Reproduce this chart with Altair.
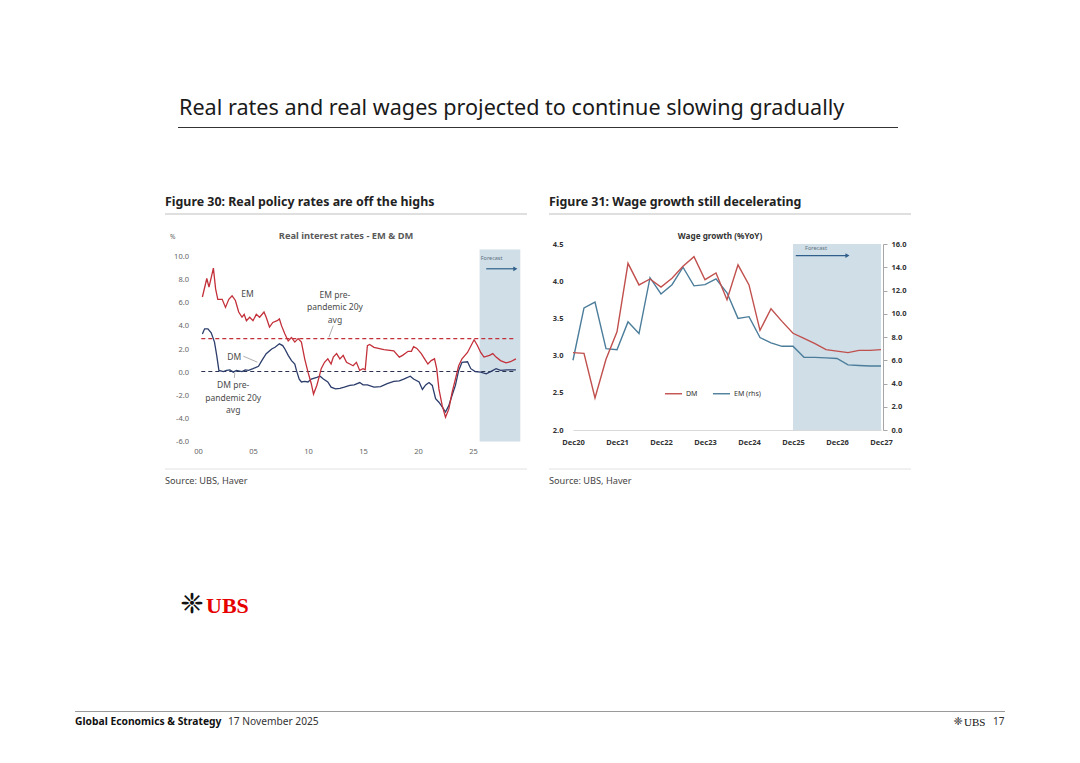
import altair as alt
import pandas as pd

W, H = 1060, 740
FONT = "Noto Sans"
SERIF = "Liberation Serif"


def px(v):
    return v - 8


# ---------------- Figure 30: Real interest rates - EM & DM ----------------
em_year = [2000.4, 2000.8, 2001.0, 2001.4, 2001.6, 2001.8, 2002.2, 2002.5, 2002.8, 2003.1,
           2003.4, 2003.7, 2004.0, 2004.2, 2004.4, 2004.7, 2005.0, 2005.3, 2005.6, 2006.0,
           2006.2, 2006.5, 2006.8, 2007.2, 2007.4, 2007.6, 2007.9, 2008.2, 2008.5, 2008.8,
           2009.1, 2009.4, 2009.7, 2010.0, 2010.3, 2010.5, 2010.8, 2011.0, 2011.2, 2011.5,
           2011.8, 2012.1, 2012.3, 2012.6, 2012.9, 2013.2, 2013.5, 2013.8, 2014.1, 2014.4,
           2014.7, 2015.0, 2015.2, 2015.4, 2015.6, 2016.0, 2016.9, 2017.8, 2018.3, 2018.6,
           2019.1, 2019.4, 2019.6, 2019.9, 2020.3, 2020.6, 2020.9, 2021.2, 2021.5, 2021.7,
           2021.9, 2022.2, 2022.5, 2022.8, 2023.1, 2023.4, 2023.7, 2024.0, 2024.5, 2025.1,
           2025.4, 2025.7, 2026.0, 2026.5, 2026.8, 2027.1, 2027.5, 2028.0, 2028.4, 2028.9]
em_val = [6.5, 8.1, 7.35, 9.0, 7.2, 6.3, 6.3, 5.6, 6.3, 6.6,
          6.2, 5.2, 4.75, 5.0, 4.45, 4.75, 4.45, 5.0, 4.75, 5.2,
          4.75, 3.9, 4.3, 4.45, 4.6, 4.0, 3.3, 2.7, 3.0, 2.6,
          2.9, 2.6, 1.15, 0.0, -1.0, -1.9, -1.15, -0.45, 0.3, 0.85,
          1.15, 0.7, 1.3, 1.6, 1.15, 1.45, 0.85, 0.7, 0.55, 0.85,
          0.15, 0.3, 0.2, 2.3, 2.4, 2.15, 1.95, 1.85, 1.3, 1.45,
          1.8, 1.8, 2.2, 2.05, 1.6, 1.15, 0.7, 1.0, 1.15, 0.3,
          -1.45, -2.9, -3.9, -3.2, -1.75, -0.6, 0.55, 1.15, 1.7, 2.8,
          2.3, 1.7, 1.3, 1.45, 1.6, 1.3, 1.0, 0.8, 0.9, 1.15]

dm_year = [2000.4, 2000.6, 2000.9, 2001.2, 2001.5, 2001.7, 2001.9, 2002.3, 2002.6, 2002.9,
           2003.2, 2003.5, 2004.0, 2004.3, 2004.6, 2005.0, 2005.5, 2005.8, 2006.2, 2006.7,
           2007.0, 2007.4, 2007.7, 2007.9, 2008.2, 2008.5, 2008.8, 2008.95, 2009.2, 2009.4,
           2009.7, 2010.0, 2010.3, 2010.8, 2011.1, 2011.4, 2011.8, 2012.1, 2012.5, 2012.9,
           2013.3, 2013.8, 2014.2, 2014.7, 2015.0, 2015.4, 2016.0, 2016.6, 2017.2, 2017.8,
           2018.3, 2018.7, 2019.3, 2019.6, 2020.1, 2020.4, 2020.7, 2021.0, 2021.3, 2021.6,
           2021.9, 2022.2, 2022.5, 2022.8, 2023.1, 2023.4, 2023.7, 2024.0, 2024.5, 2024.8,
           2025.2, 2025.7, 2026.2, 2026.6, 2027.1, 2027.5, 2028.1, 2028.9]
dm_val = [3.3, 3.75, 3.75, 3.4, 2.6, 1.45, 0.15, 0.05, 0.15, 0.2,
          0.0, 0.15, 0.05, 0.2, 0.15, 0.3, 0.5, 1.0, 1.6, 2.0,
          2.15, 2.45, 2.3, 2.0, 1.45, 1.0, 0.7, 0.15, -0.6, -0.85,
          -0.8, -0.85, -0.6, -0.45, -0.35, -0.6, -0.85, -1.3, -1.45, -1.4,
          -1.3, -1.15, -1.1, -0.9, -1.1, -1.1, -1.3, -1.25, -1.0, -0.8,
          -0.75, -0.6, -0.35, -0.6, -0.85, -1.5, -1.1, -0.9, -1.15, -2.3,
          -2.6, -3.0, -3.45, -2.9, -2.0, -1.15, 0.15, 0.85, 0.9, 0.3,
          0.05, 0.0, -0.15, 0.05, 0.3, 0.15, 0.2, 0.2]

avg_em, avg_dm = 2.9, 0.05
avg_span = [2000.3, 2028.9]
fc_left = [2025.6, 2029.3]
l_y_ticks = [-6, -4, -2, 0, 2, 4, 6, 8, 10]
l_x_ticks = [2000, 2005, 2010, 2015, 2020, 2025]
l_x_labels = ["00", "05", "10", "15", "20", "25"]

ann_labels = ["EM", "EM pre-", "pandemic 20y", "avg", "DM", "DM pre-", "pandemic 20y", "avg"]
ann_year = [2004.5, 2012.45, 2012.45, 2012.45, 2003.3, 2003.2, 2003.2, 2003.2]
ann_val = [6.77, 6.7, 5.6, 4.5, 1.3, -1.1, -2.22, -3.26]
lead_x0 = [2012.3, 2004.12, 2003.35]
lead_y0 = [4.03, 1.38, -0.05]
lead_x1 = [2011.9, 2005.4, 2003.3]
lead_y1 = [3.02, 0.86, -0.5]

# ---------------- Figure 31: Wage growth (%YoY) ----------------
quarters = list(range(29))
dm_wage = [3.04, 3.03, 2.43, 2.95, 3.32, 4.24, 3.95, 4.03, 3.92, 4.04, 4.20, 4.33, 4.02, 4.11, 3.75,
           4.22, 3.95, 3.34, 3.63, 3.46, 3.30, 3.23, 3.16, 3.08, 3.06, 3.04, 3.07, 3.07, 3.08]
em_wage = [6.0, 10.5, 11.0, 7.0, 6.9, 9.3, 8.3, 13.1, 11.7, 12.5, 14.0, 12.4, 12.5, 13.0, 11.8,
           9.6, 9.75, 7.95, 7.5, 7.2, 7.2, 6.25, 6.25, 6.2, 6.15, 5.6, 5.55, 5.5, 5.5]
r_x_ticks = [0, 4, 8, 12, 16, 20, 24, 28]
r_x_labels = ["Dec20", "Dec21", "Dec22", "Dec23", "Dec24", "Dec25", "Dec26", "Dec27"]
r_yl_ticks = [2.0, 2.5, 3.0, 3.5, 4.0, 4.5]
r_yr_ticks = [0, 2, 4, 6, 8, 10, 12, 14, 16]
fc_right = [20, 28]
series_names = ["DM", "EM (rhs)"]

RED_L, NAVY_L = "#c3303a", "#2c3d6c"
RED_R, BLUE_R = "#c0504d", "#4b7d9b"
SHADE = "#cfdee7"
ARROW = "#2f5f8a"


# ---------------- scales ----------------
def sc(domain, rng):
    return alt.Scale(domain=domain, range=rng, nice=False, zero=False)


def LX(field, axis=None):
    return alt.X(field, type="quantitative", scale=sc([1999.5, 2029.5], [px(192.5), px(522.5)]), axis=axis)


def LY(field, axis=None):
    return alt.Y(field, type="quantitative", scale=sc([-6, 10.6], [px(441.5), px(249.6)]), axis=axis)


def RX(field, axis=None):
    return alt.X(field, type="quantitative", scale=sc([0, 28], [px(573), px(881)]), axis=axis)


def RYL(field, axis=None):
    return alt.Y(field, type="quantitative", scale=sc([2.0, 4.5], [px(430), px(244)]), axis=axis)


def RYR(field, axis=None):
    return alt.Y(field, type="quantitative", scale=sc([0, 16], [px(430), px(244)]), axis=axis)


def arr_expr(lst, idx):
    return "[" + ",".join("'%s'" % s for s in lst) + "][" + idx + "]"


layers = []

# ---------- left panel ----------
layers.append(
    alt.Chart(pd.DataFrame({"x0": [fc_left[0]], "x1": [fc_left[1]], "y0": [-6.0], "y1": [10.6]}))
    .mark_rect(color=SHADE)
    .encode(x=LX("x0"), x2="x1", y=LY("y0"), y2="y1")
)
for v, c in [(avg_em, RED_L), (avg_dm, "#2b3350")]:
    layers.append(
        alt.Chart(pd.DataFrame({"x0": [avg_span[0]], "x1": [avg_span[1]], "v": [v]}))
        .mark_rule(color=c, strokeWidth=1.1, strokeDash=[4, 3])
        .encode(x=LX("x0"), x2="x1", y=LY("v"))
    )

lx_axis = alt.Axis(orient="bottom", offset=px(441.5) - H, values=l_x_ticks,
                   labelExpr=arr_expr(l_x_labels, "(datum.value-2000)/5"),
                   ticks=False, domain=False, grid=False, labelFontSize=7.5, labelColor="#666",
                   labelFont=FONT, labelPadding=6, labelFlush=False, labelOverlap=False, title=None)
ly_axis = alt.Axis(orient="left", offset=-px(192.5), values=l_y_ticks,
                   labelExpr="(datum.value < 0 ? '-' : '') + format(abs(datum.value), '.1f')",
                   ticks=False, domain=False, grid=False, labelFontSize=7.5, labelColor="#666",
                   labelFont=FONT, labelPadding=4, labelFlush=False, labelOverlap=False, title=None)

layers.append(
    alt.Chart(pd.DataFrame({"year": dm_year, "v": dm_val}))
    .mark_line(color=NAVY_L, strokeWidth=1.3)
    .encode(x=LX("year"), y=LY("v"))
)
layers.append(
    alt.Chart(pd.DataFrame({"year": em_year, "v": em_val}))
    .mark_line(color=RED_L, strokeWidth=1.3)
    .encode(x=LX("year", lx_axis), y=LY("v", ly_axis))
)
layers.append(
    alt.Chart(pd.DataFrame({"x0": lead_x0, "y0": lead_y0, "x1": lead_x1, "y1": lead_y1}))
    .mark_rule(color="#999999", strokeWidth=0.8)
    .encode(x=LX("x0"), y=LY("y0"), x2="x1", y2="y1")
)
layers.append(
    alt.Chart(pd.DataFrame({"year": ann_year, "v": ann_val, "t": ann_labels}))
    .mark_text(font=FONT, fontSize=8.5, color="#4a4a4a")
    .encode(x=LX("year"), y=LY("v"), text="t:N")
)
layers.append(
    alt.Chart(pd.DataFrame({"year": [fc_left[0] + 0.1], "v": [9.85], "t": ["Forecast"]}))
    .mark_text(font=FONT, fontSize=5.5, color="#60707e", align="left")
    .encode(x=LX("year"), y=LY("v"), text="t:N")
)
layers.append(
    alt.Chart(pd.DataFrame({"x0": [2026.2], "x1": [2028.8], "v": [8.94]}))
    .mark_rule(color=ARROW, strokeWidth=1.2)
    .encode(x=LX("x0"), x2="x1", y=LY("v"))
)
layers.append(
    alt.Chart(pd.DataFrame({"x": [2028.85], "v": [8.94]}))
    .mark_point(shape="triangle-right", filled=True, size=22, color=ARROW, opacity=1)
    .encode(x=LX("x"), y=LY("v"))
)

# ---------- right panel ----------
layers.append(
    alt.Chart(pd.DataFrame({"x0": [fc_right[0]], "x1": [fc_right[1]], "y0": [2.0], "y1": [4.5]}))
    .mark_rect(color=SHADE)
    .encode(x=RX("x0"), x2="x1", y=RYL("y0"), y2="y1")
)
layers.append(
    alt.Chart(pd.DataFrame({"x": [21.1], "v": [4.445], "t": ["Forecast"]}))
    .mark_text(font=FONT, fontSize=5.5, color="#60707e", align="left")
    .encode(x=RX("x"), y=RYL("v"), text="t:N")
)
layers.append(
    alt.Chart(pd.DataFrame({"x0": [20.25], "x1": [24.9], "v": [4.345]}))
    .mark_rule(color=ARROW, strokeWidth=1.2)
    .encode(x=RX("x0"), x2="x1", y=RYL("v"))
)
layers.append(
    alt.Chart(pd.DataFrame({"x": [24.95], "v": [4.345]}))
    .mark_point(shape="triangle-right", filled=True, size=22, color=ARROW, opacity=1)
    .encode(x=RX("x"), y=RYL("v"))
)

color_scale = alt.Scale(domain=series_names, range=[RED_R, BLUE_R])
legend = alt.Legend(orient="none", legendX=px(664), legendY=px(384), direction="horizontal",
                    symbolType="stroke", symbolSize=290, symbolStrokeWidth=1.4, title=None,
                    labelFont=FONT, labelFontSize=7, labelColor="#333", labelOffset=3,
                    columnPadding=12, padding=0)

rx_axis = alt.Axis(orient="bottom", offset=px(430) - H, values=r_x_ticks,
                   labelExpr=arr_expr(r_x_labels, "datum.value/4"),
                   ticks=False, domain=True, domainColor="#d9d9d9", domainWidth=1, grid=False,
                   labelFontSize=7.5, labelFontWeight="bold", labelColor="#333", labelFont=FONT,
                   labelPadding=8, labelFlush=False, labelOverlap=False, title=None)
ryl_axis = alt.Axis(orient="left", offset=-px(573), values=r_yl_ticks, format=".1f",
                    ticks=False, domain=False, grid=False, labelFontSize=7.5, labelFontWeight="bold",
                    labelColor="#333", labelFont=FONT, labelPadding=10, labelFlush=False,
                    labelOverlap=False, title=None)
ryr_axis = alt.Axis(orient="right", offset=px(883) - W, values=r_yr_ticks, format=".1f",
                    ticks=True, tickSize=4, tickColor="#a6a6a6", domain=True, domainColor="#a6a6a6",
                    grid=False, labelFontSize=7.5, labelFontWeight="bold", labelColor="#333",
                    labelFont=FONT, labelPadding=4, labelFlush=False, labelOverlap=False, title=None)

layers.append(
    alt.Chart(pd.DataFrame({"q": quarters, "v": em_wage, "s": [series_names[1]] * len(quarters)}))
    .mark_line(strokeWidth=1.4)
    .encode(x=RX("q"), y=RYR("v", ryr_axis), color=alt.Color("s:N", scale=color_scale, legend=legend))
)
layers.append(
    alt.Chart(pd.DataFrame({"q": quarters, "v": dm_wage, "s": [series_names[0]] * len(quarters)}))
    .mark_line(strokeWidth=1.4)
    .encode(x=RX("q", rx_axis), y=RYL("v", ryl_axis), color=alt.Color("s:N", scale=color_scale, legend=legend))
)


# ---------- page furniture ----------
def ptext(txt, x, y, size, weight="normal", color="#222222", align="left", baseline="middle", font=FONT):
    return (
        alt.Chart(pd.DataFrame({"t": [txt]}))
        .mark_text(align=align, baseline=baseline, fontSize=size, fontWeight=weight, color=color, font=font)
        .encode(x=alt.value(px(x)), y=alt.value(px(y)), text="t:N")
    )


def prule(x1, x2, y, color, width):
    return (
        alt.Chart(pd.DataFrame({"a": [0]}))
        .mark_rule(color=color, strokeWidth=width)
        .encode(x=alt.value(px(x1)), x2=alt.value(px(x2)), y=alt.value(px(y)))
    )


layers += [
    ptext("Real rates and real wages projected to continue slowing gradually", 179, 115, 21.6,
          color="#1a1a1a", baseline="alphabetic"),
    prule(178, 898, 127.5, "#333333", 1),
    ptext("Figure 30: Real policy rates are off the highs", 165, 202, 12.4, weight="bold"),
    ptext("Figure 31: Wage growth still decelerating", 549, 202, 12.4, weight="bold"),
    prule(165, 527, 214, "#d4d4d4", 1.5),
    prule(549, 911, 214, "#d4d4d4", 1.5),
    ptext("Real interest rates - EM & DM", 346, 236, 9.3, weight="bold", color="#5a5a5a", align="center"),
    ptext("%", 170, 237, 6.5, color="#666"),
    ptext("Wage growth (%YoY)", 720, 237, 8.2, weight="bold", color="#333", align="center"),
    prule(165, 527, 469, "#e2e2e2", 1),
    prule(549, 911, 469, "#e2e2e2", 1),
    ptext("Source: UBS, Haver", 165, 481, 9.2, color="#444"),
    ptext("Source: UBS, Haver", 549, 481, 9.2, color="#444"),
    ptext("\u2748", 192, 605, 28, color="#111", align="center", font="DejaVu Sans"),
    ptext("UBS", 206, 606, 22, weight="bold", color="#e60000", font=SERIF),
    prule(75, 1005, 711.5, "#9a9a9a", 1),
    ptext("Global Economics & Strategy", 75, 722, 10.3, weight="bold", color="#111"),
    ptext("17 November 2025", 228, 722, 10.2, color="#333"),
    ptext("\u2748", 958, 722, 11, color="#111", align="center", font="DejaVu Sans"),
    ptext("UBS", 964, 722.5, 11, color="#111", font=SERIF),
    ptext("17", 993, 722, 10, color="#333"),
]

chart = (
    alt.layer(*layers)
    .resolve_scale(x="independent", y="independent")
    .properties(width=W, height=H, autosize=alt.AutoSizeParams(type="none"), padding=0,
                background="white")
    .configure_view(stroke=None)
)

chart.save("out.html", embed_options={"renderer": "svg", "actions": False})
